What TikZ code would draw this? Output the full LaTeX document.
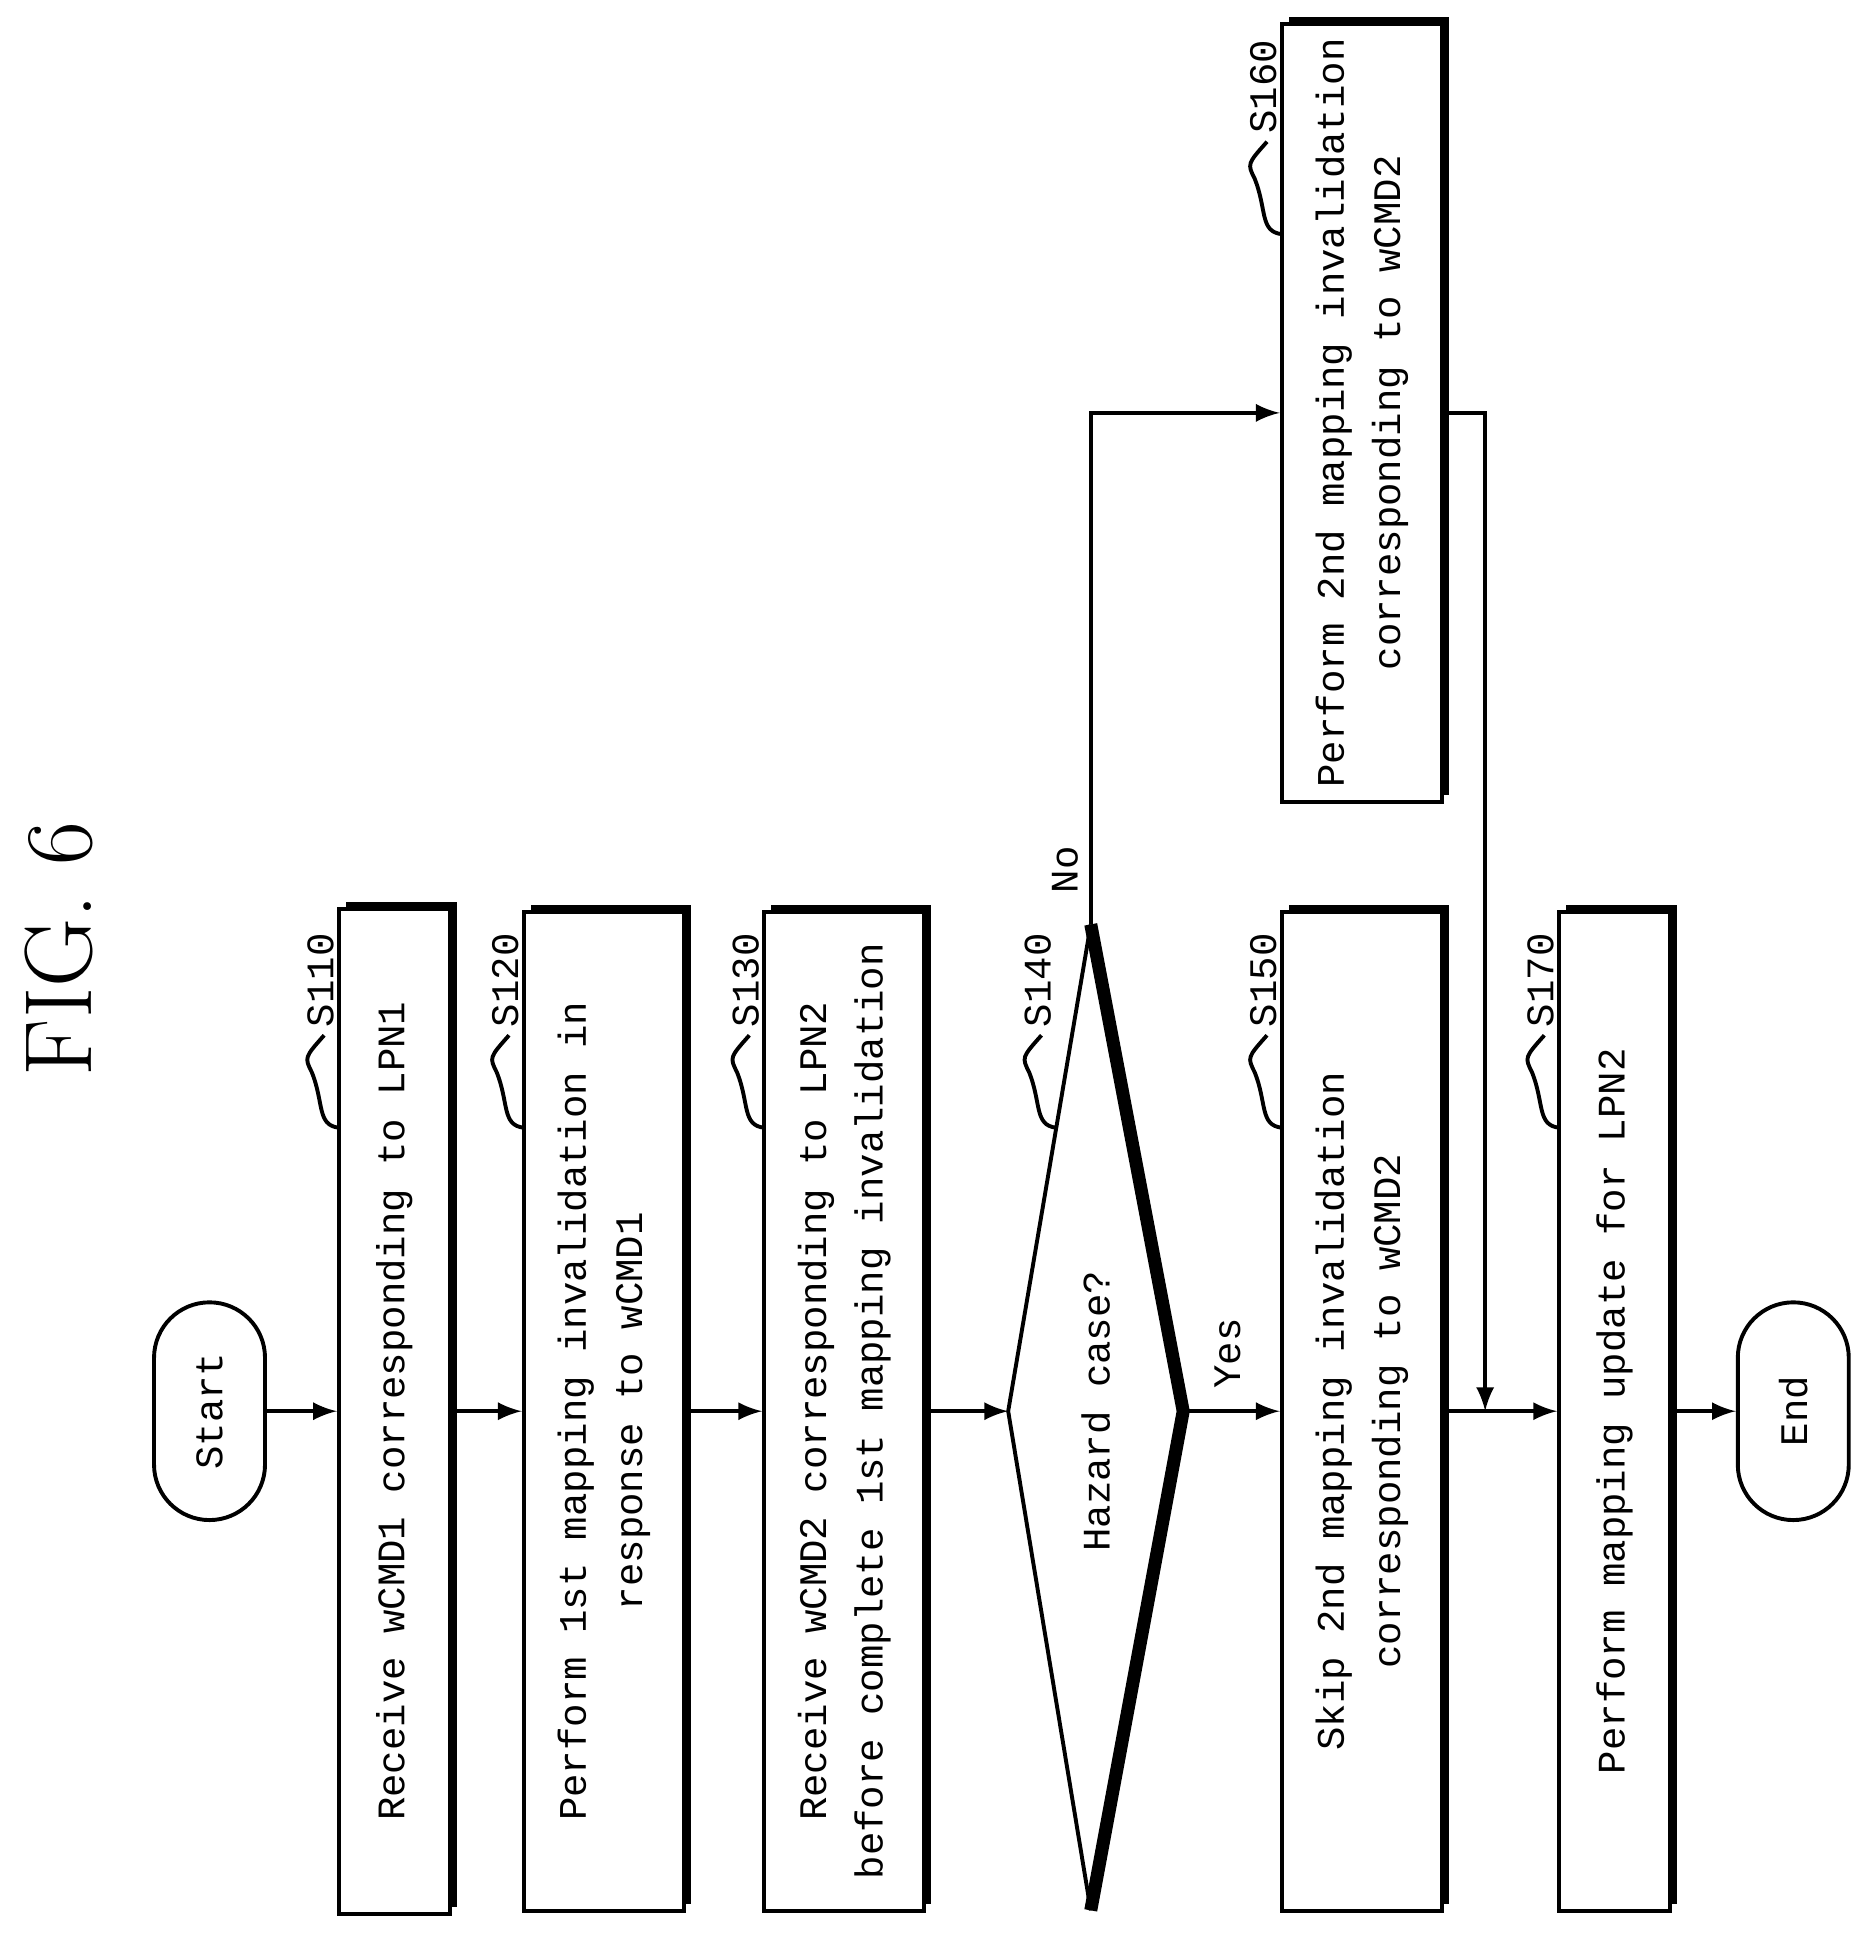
\documentclass[tikz,border=0pt]{standalone}
\usepackage{fontspec}
\newfontfamily\mono{Liberation Mono}
\usetikzlibrary{shapes.misc, shadows, calc}

\begin{document}
\begin{tikzpicture}[x=0.01cm, y=-0.01cm, line width=0.9pt, font=\mono\fontsize{9}{13}\selectfont]
		\tikzset{
		box/.style={
		draw,
		fill=white,
		rectangle,
		rotate=90,
		align=center,
		minimum height=0.9cm,
		general shadow={fill=black, shadow xshift=1.6pt, shadow yshift=1.6pt}},
		pill/.style={
		draw,
		rounded rectangle,
		rotate=90,
		minimum width=2cm,
		minimum height=0.9cm},
		tag/.style={rotate=90, anchor=west, inner sep=0pt},
		arr/.style={-latex}}
		\useasboundingbox (0,0) rectangle (1520,1570);
		\node[rotate=90, font=\fontsize{22}{26}\selectfont] (T) at (48,770) {FIG. 6};
		%
		\node[pill] (ST) at (170,1145) {Start};
		\node[box, minimum width=8.15cm] (S1) at (320,1145) {Receive wCMD1 corresponding to LPN1};
		\node[box, minimum width=8.1cm, minimum height=1.3cm] (S2) at (490,1145) {Perform 1st mapping invalidation in\\response to wCMD1};
		\node[box, minimum width=8.1cm, minimum height=1.3cm] (S3) at (685,1145) {Receive wCMD2 corresponding to LPN2\\before complete 1st mapping invalidation};
		\coordinate (DL) at (818,1145);
		\coordinate (DR) at (960,1145);
		\coordinate (DT) at (885,750);
		\coordinate (DB) at (885,1550);
		\draw (DT) -- (DL) -- (DB);
		\draw[line width=3pt] (DT) -- (DR) -- (DB);
		\node[rotate=90] (D) at (889,1145) {Hazard case?};
		\node[box, minimum width=8.1cm, minimum height=1.3cm] (S5) at (1105,1145) {Skip 2nd mapping invalidation\\corresponding to wCMD2};
		\node[box, minimum width=6.3cm, minimum height=1.3cm] (S6) at (1105,335) {Perform 2nd mapping invalidation\\corresponding to wCMD2};
		\node[box, minimum width=8.1cm] (S7) at (1310,1145) {Perform mapping update for LPN2};
		\node[pill] (EN) at (1455,1145) {End};
		%
		\draw[arr] (ST.south) -- (S1.north);
		\draw[arr] (S1.south) -- (S2.north);
		\draw[arr] (S2.south) -- (S3.north);
		\draw[arr] (S3.south) -- (DL);
		\draw[arr] (DR) -- (S5.north);
		\draw[arr] (DT) |- (S6.north);
		\coordinate (J) at (1205,1145);
		\draw[arr] (S6.south) -| (J);
		\draw[arr] (S5.south) -- (S7.north);
		\draw[arr] (S7.south) -- (EN.north);
		\node[rotate=90, anchor=south west] at (888,738) {No};
		\node[rotate=90, anchor=north west] at (972,1140) {Yes};
		%
		\foreach \x/\y/\t in {275/915/S110, 425/915/S120, 620/915/S130, 857/915/S140, 1040/915/S150, 1040/190/S160, 1265/915/S170}{
			\draw (\x,\y) .. controls +(-18,-2) and +(10,25) .. (\x-22,\y-45) .. controls +(-6,-12) .. (\x-12,\y-75);
			\node[tag] at (\x-15,\y-80) {\t};
		}
	\end{tikzpicture}
\end{document}
